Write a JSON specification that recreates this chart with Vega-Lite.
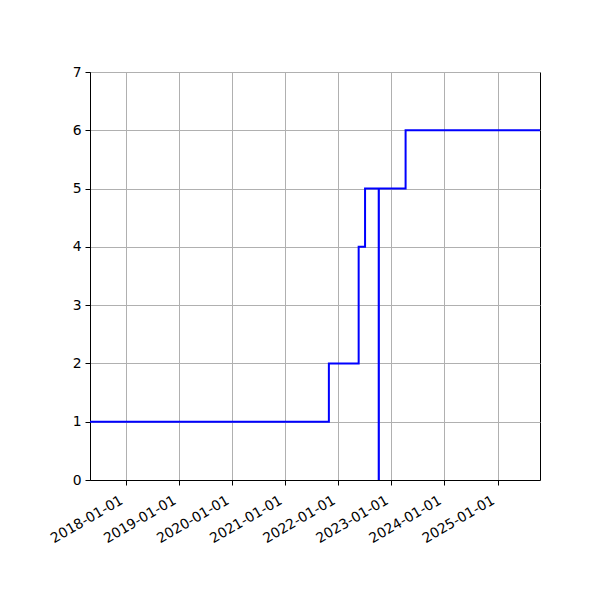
{
  "$schema": "https://vega.github.io/schema/vega-lite/v6.json",
  "width": 450,
  "height": 408,
  "autosize": {"type": "none"},
  "padding": {"left": 90, "top": 72, "right": 60, "bottom": 120},
  "background": "white",
  "config": {
    "font": "DejaVu Sans",
    "view": {"stroke": "black", "strokeWidth": 1},
    "axis": {
      "labelFont": "DejaVu Sans",
      "labelFontSize": 13.9,
      "labelColor": "black",
      "domainColor": "black",
      "tickColor": "black",
      "tickSize": 5,
      "labelPadding": 4,
      "gridColor": "#b0b0b0",
      "gridWidth": 1,
      "gridOpacity": 1,
      "title": null
    }
  },
  "data": {
    "values": [
      {"date": "2017-04-28", "value": 1},
      {"date": "2021-10-28", "value": 2},
      {"date": "2022-05-21", "value": 4},
      {"date": "2022-07-04", "value": 5},
      {"date": "2022-10-06", "value": 0},
      {"date": "2022-10-07", "value": 5},
      {"date": "2023-04-09", "value": 6},
      {"date": "2025-10-20", "value": 6}
    ]
  },
  "mark": {"type": "line", "interpolate": "step-after", "color": "#0000ff", "strokeWidth": 2, "clip": true},
  "encoding": {
    "x": {
      "field": "date",
      "type": "temporal",
      "scale": {"type": "utc", "domain": ["2017-04-28", "2025-10-20"], "nice": false},
      "axis": {
        "values": [
          {"year": 2018, "month": 1, "date": 1, "utc": true},
          {"year": 2019, "month": 1, "date": 1, "utc": true},
          {"year": 2020, "month": 1, "date": 1, "utc": true},
          {"year": 2021, "month": 1, "date": 1, "utc": true},
          {"year": 2022, "month": 1, "date": 1, "utc": true},
          {"year": 2023, "month": 1, "date": 1, "utc": true},
          {"year": 2024, "month": 1, "date": 1, "utc": true},
          {"year": 2025, "month": 1, "date": 1, "utc": true}
        ],
        "format": "%Y-%m-%d",
        "labelAngle": -30,
        "labelAlign": "right",
        "labelBaseline": "top",
        "labelOffset": -8,
        "labelPadding": 8,
        "labelOverlap": false,
        "grid": true
      }
    },
    "y": {
      "field": "value",
      "type": "quantitative",
      "scale": {"domain": [0, 7], "nice": false},
      "axis": {"values": [0, 1, 2, 3, 4, 5, 6, 7], "grid": true}
    }
  }
}
